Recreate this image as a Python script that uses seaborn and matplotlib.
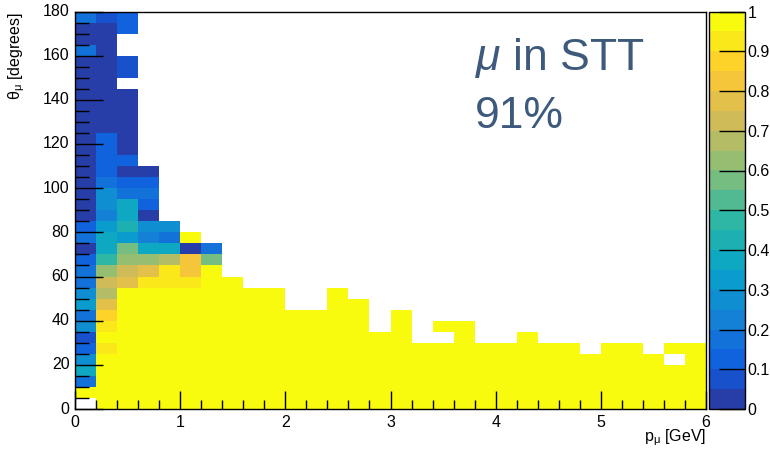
import matplotlib
matplotlib.use("Agg")
import matplotlib.pyplot as plt
import numpy as np
import pandas as pd
import seaborn as sns
from matplotlib.colors import LinearSegmentedColormap, ListedColormap

# binning: 0.2 GeV in momentum, 5 degrees in angle
p_edges = np.linspace(0.0, 6.0, 31)
theta_edges = np.linspace(0.0, 180.0, 37)

# efficiency per theta bin (0-5, 5-10, ... 175-180) for the low-momentum columns
# None = empty bin
eff_p00 = [None, 1.0, 0.15, 0.35, 0.25, 0.12, 0.08, 0.25, 0.18, 0.30, 0.25, 0.15,
           0.15, 0.10, 0.0, 0.15, 0.10, 0.0, 0.0, 0.0, 0.0, 0.0, 0.0, 0.0,
           0.0, 0.0, 0.0, 0.0, 0.0, 0.0, 0.0, 0.0, 0.15, 0.0, 0.0, 0.15]
eff_p02 = [1.0, 1.0, 1.0, 1.0, 1.0, 0.93, 1.0, 0.93, 0.85, 0.78, 0.65, 0.70,
           0.60, 0.45, 0.38, 0.35, 0.30, 0.20, 0.25, 0.25, 0.15, 0.10, 0.10, 0.10,
           0.12, 0.0, 0.0, 0.0, 0.0, 0.0, 0.0, 0.0, 0.0, 0.0, 0.0, 0.08]
eff_p04 = [1.0, 1.0, 1.0, 1.0, 1.0, 1.0, 1.0, 1.0, 1.0, 1.0, 1.0, 0.78,
           0.72, 0.62, 0.55, 0.30, 0.40, 0.35, 0.35, 0.15, 0.10, 0.0, 0.10, 0.0,
           0.0, 0.0, 0.0, 0.0, 0.0, None, 0.08, 0.08, None, None, 0.12, 0.12]
eff_p06 = [1.0, 1.0, 1.0, 1.0, 1.0, 1.0, 1.0, 1.0, 1.0, 1.0, 1.0, 0.93,
           0.78, 0.62, 0.35, 0.20, 0.25, 0.0, 0.10, 0.15, 0.10, 0.0]
eff_p08 = [1.0, 1.0, 1.0, 1.0, 1.0, 1.0, 1.0, 1.0, 1.0, 1.0, 1.0, 0.93,
           0.90, 0.68, 0.35, 0.15, 0.25]
eff_p10 = [1.0, 1.0, 1.0, 1.0, 1.0, 1.0, 1.0, 1.0, 1.0, 1.0, 1.0, 0.93,
           0.82, 0.80, 0.0, 1.0]
eff_p12 = [1.0, 1.0, 1.0, 1.0, 1.0, 1.0, 1.0, 1.0, 1.0, 1.0, 1.0, 1.0,
           1.0, 0.55, 0.15]
low_p_columns = [eff_p00, eff_p02, eff_p04, eff_p06, eff_p08, eff_p10, eff_p12]

# above 1.4 GeV every filled bin has efficiency 1; upper edge of filled region
theta_top_high_p = [60, 55, 55, 45, 45, 55, 50, 35, 45, 30, 40, 40, 30, 30, 35,
                    30, 30, 25, 30, 30, 25, 30, 30]
# empty bins inside the filled region (p centre, theta centre)
holes = [(3.5, 32.5), (5.7, 22.5)]

# ROOT kBird palette, 20 contour levels
bird_stops = [
    (0.2082, 0.1664, 0.5293), (0.0592, 0.3599, 0.8684), (0.0780, 0.5041, 0.8385),
    (0.0232, 0.6419, 0.7914), (0.1802, 0.7178, 0.6425), (0.5301, 0.7492, 0.4662),
    (0.8186, 0.7328, 0.3499), (0.9956, 0.7862, 0.1968), (0.9764, 0.9832, 0.0539),
]
n_levels = 20

n_p, n_t = len(p_edges) - 1, len(theta_edges) - 1
eff = np.full((n_t, n_p), np.nan)
for ic, col in enumerate(low_p_columns):
    for it, v in enumerate(col):
        if v is not None:
            eff[it, ic] = v
for k, top in enumerate(theta_top_high_p):
    ic = len(low_p_columns) + k
    eff[theta_edges[1:] <= top, ic] = 1.0
for p, t in holes:
    eff[np.searchsorted(theta_edges, t) - 1, np.searchsorted(p_edges, p) - 1] = np.nan

p_centres = (p_edges[:-1] + p_edges[1:]) / 2
theta_centres = (theta_edges[:-1] + theta_edges[1:]) / 2
df = pd.DataFrame(eff, index=theta_centres, columns=p_centres)

# ROOT picks the palette colour near the top of each contour band
bird = LinearSegmentedColormap.from_list("bird", bird_stops)
cmap = ListedColormap(bird((np.arange(n_levels) + 0.99) / n_levels))

plt.rcParams["font.family"] = ["Liberation Sans", "DejaVu Sans"]
plt.rcParams["mathtext.fontset"] = "custom"
plt.rcParams["mathtext.rm"] = "Liberation Sans"
plt.rcParams["mathtext.it"] = "Liberation Sans:italic"

W, H = 770, 449
fig = plt.figure(figsize=(W / 100, H / 100), dpi=100)
ax = fig.add_axes([75 / W, 40 / H, 631 / W, 397.5 / H])
cax = fig.add_axes([709 / W, 40 / H, 36 / W, 397.5 / H])

sns.heatmap(df, cmap=cmap, vmin=0, vmax=1, ax=ax, cbar_ax=cax)

# heatmap works in bin-index units; map physical values onto them
def p_pos(v):
    return np.interp(v, p_edges, np.arange(n_p + 1))


def t_pos(v):
    return np.interp(v, theta_edges, np.arange(n_t + 1))


ax.set_xlim(0, n_p)
ax.set_ylim(0, n_t)
for s in ax.spines.values():
    s.set_visible(True)
    s.set_linewidth(1.0)
    s.set_color("black")

x_major = np.arange(0, 7)
y_major = np.arange(0, 181, 20)
ax.set_xticks(p_pos(x_major))
ax.set_xticklabels([str(v) for v in x_major], rotation=0, fontsize=11.5)
ax.set_xticks(p_pos(p_edges), minor=True)
ax.set_yticks(t_pos(y_major))
ax.set_yticklabels([str(v) for v in y_major], rotation=0, fontsize=11.5)
ax.set_yticks(t_pos(theta_edges), minor=True)
ax.tick_params(axis="x", which="major", direction="in", length=13, width=1, pad=4,
               top=False, bottom=True)
ax.tick_params(axis="x", which="minor", direction="in", length=6.5, width=1,
               top=False, bottom=True)
ax.tick_params(axis="y", which="major", direction="in", length=20, width=1, pad=4,
               left=True, right=False)
ax.tick_params(axis="y", which="minor", direction="in", length=10, width=1,
               left=True, right=False)
ax.set_xlabel("")
ax.set_ylabel("")

cb = ax.collections[0].colorbar
cb.outline.set_linewidth(1.0)
cb.outline.set_edgecolor("black")
cticks = np.round(np.arange(0, 1.01, 0.1), 1)
cb.set_ticks(cticks)
cb.set_ticklabels(["0" if v == 0 else "1" if v == 1 else f"{v:g}" for v in cticks])
cax.tick_params(direction="in", length=19, width=1, right=True, left=False,
                labelright=True, labelsize=11.5, pad=2)

fig.text(17 / W, 1 - 12 / H, r"θ$_{\mathregular{μ}}$ [degrees]", rotation=90,
         ha="center", va="top", fontsize=11.5)
fig.text(706 / W, 1 - 441 / H, r"p$_{\mathregular{μ}}$ [GeV]", ha="right",
         va="baseline", fontsize=11.5)

text_color = "#3d5a7c"
fig.text(475 / W, 1 - 70 / H, r"$\mu$ in STT", ha="left", va="baseline",
         fontsize=32, color=text_color)
fig.text(475 / W, 1 - 128 / H, "91%", ha="left", va="baseline",
         fontsize=32, color=text_color)

fig.savefig("out.png", dpi=100)
